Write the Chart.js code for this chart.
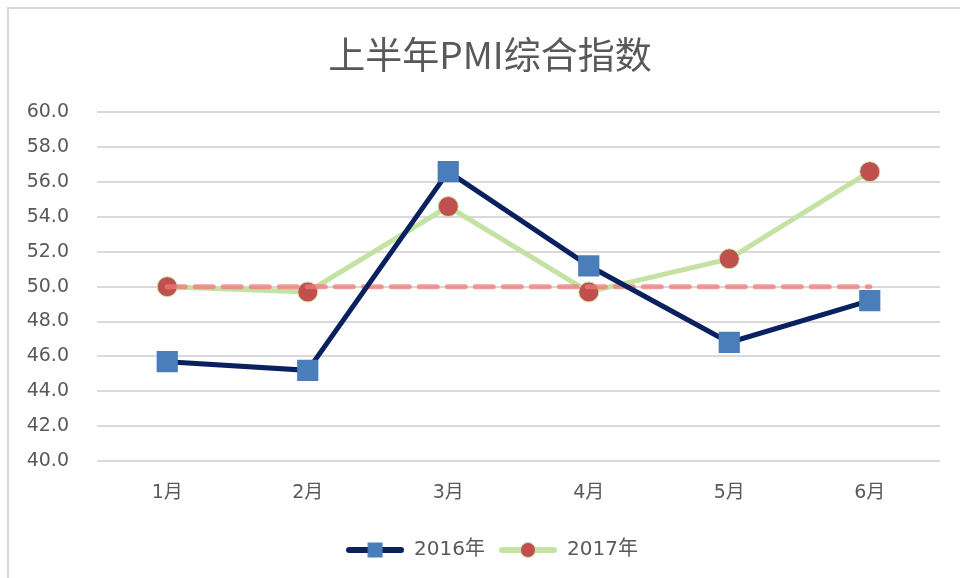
<!DOCTYPE html>
<html lang="zh-CN"><head><meta charset="UTF-8">
<title>上半年PMI综合指数</title>
<script src="https://cdn.jsdelivr.net/npm/chart.js@4.4.1/dist/chart.umd.min.js"></script>
<style>
*{box-sizing:border-box;margin:0;padding:0;}
body{background:#fff;width:960px;height:578px;overflow:hidden;position:relative;}
.frame{position:absolute;left:7px;top:7px;width:1000px;height:1000px;border:2px solid #d9d9d9;}
.wrap{position:absolute;left:0;top:0;width:960px;height:578px;}
</style></head>
<body>
<div class="frame"></div>
<div class="wrap"><canvas id="pmi"></canvas></div>
<script>
// data
const months = ['1月', '2月', '3月', '4月', '5月', '6月'];
const pmi2016 = [45.7, 45.2, 56.6, 51.2, 46.8, 49.2];
const pmi2017 = [50.0, 49.7, 54.6, 49.7, 51.6, 56.6];
const line50  = [50, 50, 50, 50, 50, 50];

const NAVY = '#0a2160', BLUE = '#4a7ebb', GREEN = '#c4e2a4', RED = '#c0504d';
const TXT = '#595959', GRID = '#d9d9d9';
const FONT = "'DejaVu Sans','Noto Sans CJK SC',sans-serif";

// legend swatch: line + marker, like the office chart
function swatch(line, fill, shape) {
  const c = document.createElement('canvas');
  c.width = 58; c.height = 18;
  const g = c.getContext('2d');
  g.strokeStyle = line; g.lineWidth = 6; g.lineCap = 'round';
  g.beginPath(); g.moveTo(3, 9); g.lineTo(55, 9); g.stroke();
  g.fillStyle = fill;
  if (shape === 'rect') g.fillRect(21.5, 1.5, 15, 15);
  else { g.beginPath(); g.arc(29, 9, 7.5, 0, Math.PI * 2); g.fill(); g.strokeStyle = GREEN; g.lineWidth = 1; g.stroke(); }
  return c;
}
const sw2016 = swatch(NAVY, BLUE, 'rect');
const sw2017 = swatch(GREEN, RED, 'circle');

// title and legend sit a little right of the canvas centre in the original
const shiftBoxes = {
  id: 'shiftBoxes',
  afterLayout(chart) {
    const t = chart.titleBlock; if (t) { t.left += 16; t.right += 16; }
    const l = chart.legend; if (l) { l.left += 18; l.right += 18; }
  }
};

new Chart(document.getElementById('pmi'), {
  type: 'line',
  data: {
    labels: months,
    datasets: [
      {label: '2016年', data: pmi2016, order: 0, borderColor: NAVY, borderWidth: 5,
       pointStyle: 'rect', pointRadius: 15, pointHoverRadius: 15, pointBackgroundColor: BLUE, pointBorderColor: BLUE, pointBorderWidth: 0},
      {label: '2017年', data: pmi2017, order: 2, borderColor: GREEN, borderWidth: 5,
       pointStyle: 'circle', pointRadius: 10, pointHoverRadius: 10, pointBackgroundColor: RED, pointBorderColor: GREEN, pointBorderWidth: 1},
      {label: 'ref', data: line50, order: 1, borderColor: 'rgba(240,120,120,0.75)', borderWidth: 5,
       borderDash: [18, 10], borderCapStyle: 'round', pointRadius: 0, pointHoverRadius: 0}
    ]
  },
  plugins: [shiftBoxes],
  options: {
    responsive: true, maintainAspectRatio: false, animation: false,
    layout: {padding: {left: 8, right: 20, top: 33, bottom: 8}},
    plugins: {
      title: {display: true, text: '上半年PMI综合指数', color: TXT,
              font: {family: "'Noto Sans CJK SC',sans-serif", size: 37, weight: 'normal'}, padding: {top: 0, bottom: 35}},
      legend: {position: 'bottom',
        labels: {color: TXT, font: {family: FONT, size: 20}, usePointStyle: true, pointStyleWidth: 58, padding: 14,
          filter: item => item.text !== 'ref',
          generateLabels: chart => Chart.defaults.plugins.legend.labels.generateLabels(chart).map(l => {
            l.pointStyle = l.datasetIndex === 0 ? sw2016 : sw2017; return l; })}},
      tooltip: {enabled: false}
    },
    scales: {
      x: {offset: true, grid: {display: false}, border: {display: false},
          ticks: {color: TXT, font: {family: FONT, size: 19}, padding: 13},
          afterFit: s => { s.height = 65; }},
      y: {min: 40, max: 60, grid: {color: GRID, lineWidth: 2, drawTicks: false}, border: {display: false},
          ticks: {stepSize: 2, color: TXT, font: {family: FONT, size: 19}, padding: 28, callback: v => v.toFixed(1)},
          afterFit: s => { s.width = 89; }}
    }
  }
});
</script>
</body></html>
